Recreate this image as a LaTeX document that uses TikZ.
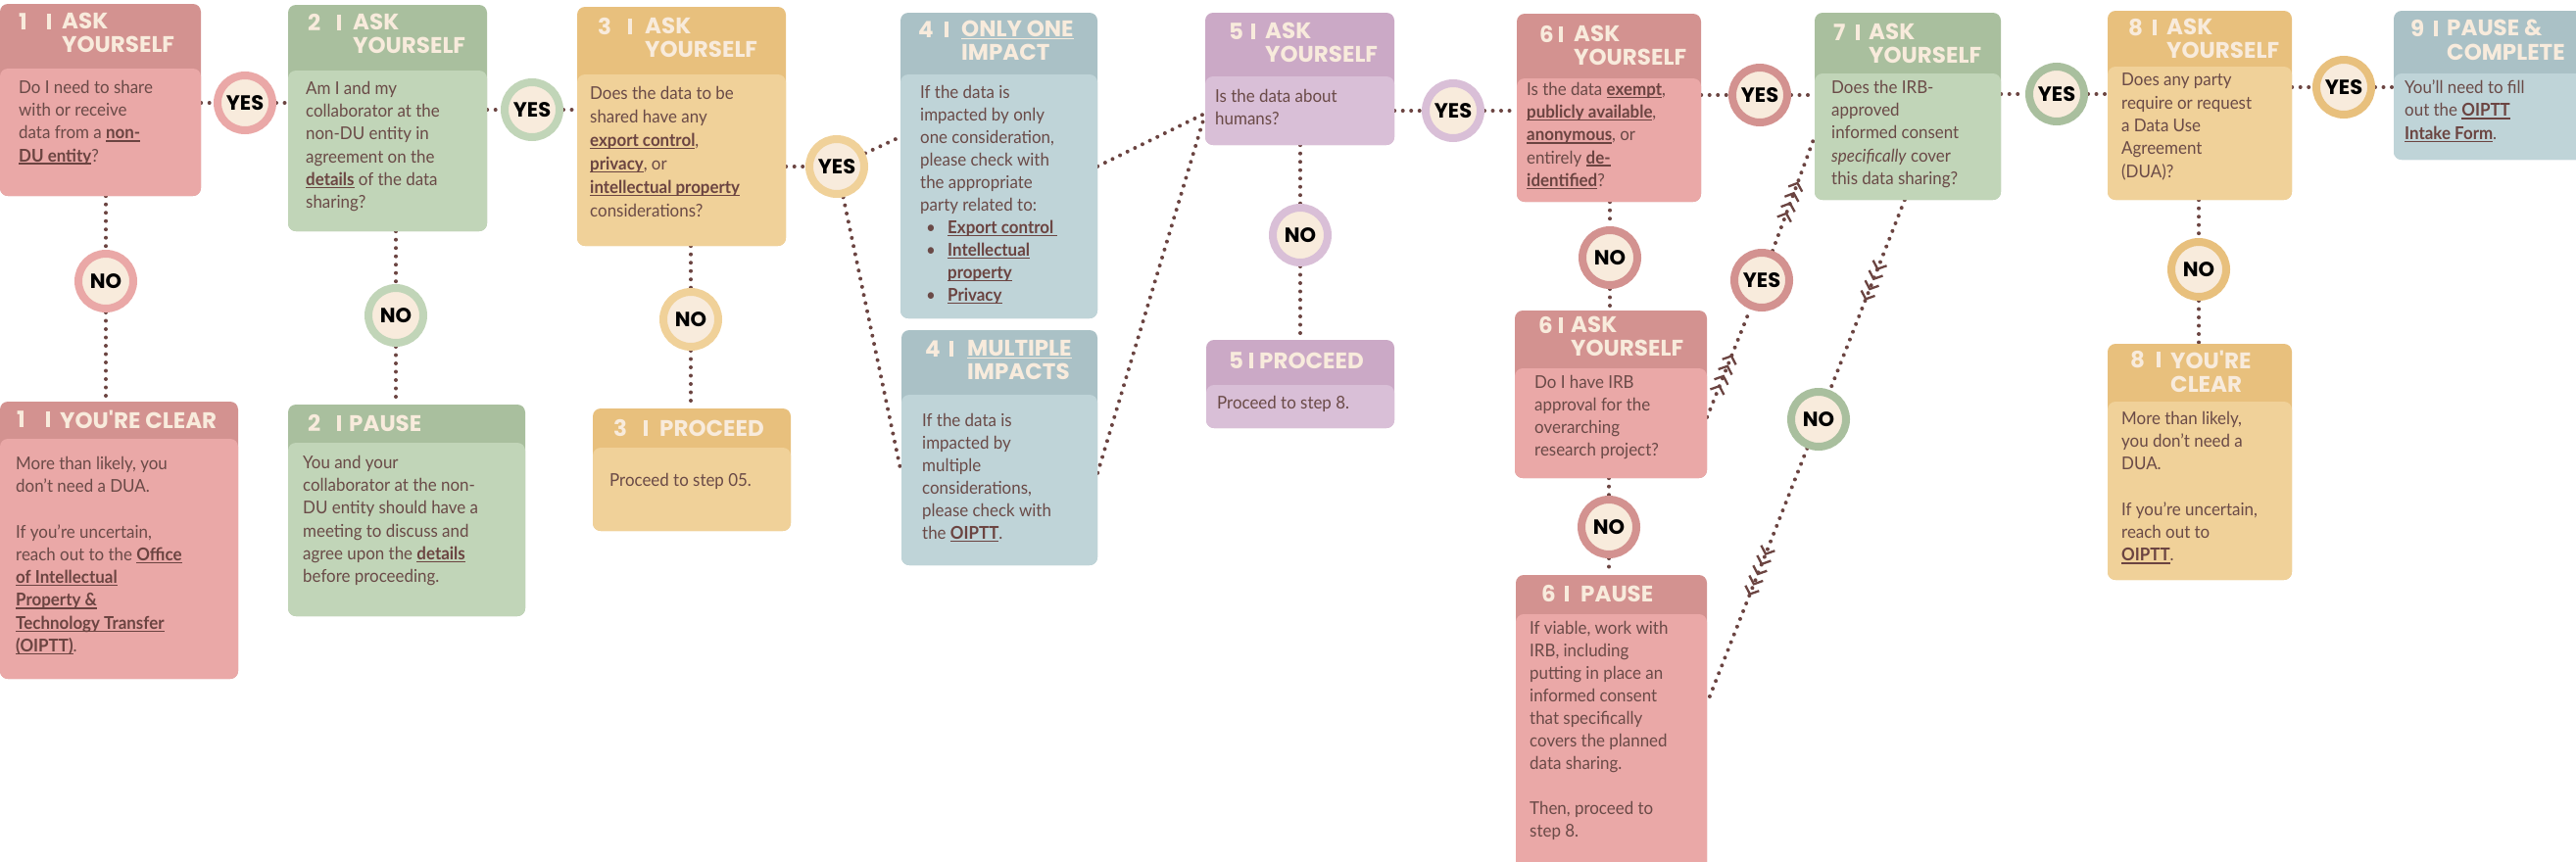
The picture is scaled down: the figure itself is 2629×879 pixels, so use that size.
\documentclass[tikz,border=0pt]{standalone}
\usepackage{fontspec}
\setmainfont{Lato}[FakeStretch=0.94]
\newfontfamily\pop{Poppins}
\newsavebox\ulbox
\newcommand\myul[1]{\leavevmode\sbox\ulbox{#1}\rlap{\rule[-2.8pt]{\wd\ulbox}{1.4pt}}\usebox\ulbox}
\usetikzlibrary{fit,decorations.markings,arrows.meta}
\definecolor{redH}{HTML}{D39290}\definecolor{redB}{HTML}{EAA8A7}
\definecolor{grnH}{HTML}{A9BF9E}\definecolor{grnB}{HTML}{C1D5B8}
\definecolor{yelH}{HTML}{E8C07D}\definecolor{yelB}{HTML}{F0D199}
\definecolor{bluH}{HTML}{AAC1C6}\definecolor{bluB}{HTML}{BFD4D8}
\definecolor{purH}{HTML}{CBA9C6}\definecolor{purB}{HTML}{D9BFD7}
\definecolor{cream}{HTML}{F8EBDC}
\definecolor{txt}{HTML}{6A4A47}
\definecolor{lnk}{HTML}{6B4441}
\definecolor{dotc}{HTML}{6B4441}
\newcommand\lnk[1]{{\color{lnk}\bfseries\myul{#1}}}
\newcommand\bodyf{\fontsize{18}{23.3}\selectfont}
\newcommand\hdf{\pop\bfseries\fontsize{23}{24.5}\selectfont}
\pgfdeclarelayer{bg}\pgfdeclarelayer{lines}\pgfsetlayers{bg,lines,main}
\tikzset{
  dl/.style={draw=dotc, line width=4pt, line cap=round, dash pattern=on 0pt off 8.5pt},
  chev/.style={postaction={decorate}, decoration={markings, mark=between positions #1 step 11pt with {\pgfsetdash{}{0pt}\arrow{Straight Barb[length=6.5pt,width=15pt,line width=2.3pt]}}}},
  yn/.style={circle, fill=cream, draw=#1, line width=8pt, minimum size=56pt, inner sep=0pt, font=\pop\bfseries\fontsize{21}{21}\selectfont, text=black},
  btxt/.style={anchor=north west, inner sep=0pt, align=left, font=\bodyf, text=txt, execute at begin node=\strut},
  htxt/.style={anchor=north west, inner sep=0pt, align=left, font=\hdf, text=cream, execute at begin node=\strut},
  hnum/.style={anchor=base west, inner sep=0pt, font=\hdf, text=cream},
}
% box: name, left, top, right, bottom, header bottom, header colour, body colour
\newcommand\bx[8]{%
  \fill[#7, rounded corners=8pt] (#2,#3) rectangle (#4,#5);
  \fill[#8, rounded corners=8pt] (#2,#6) rectangle (#4,#5);
  \node[inner sep=0pt, fit={(#2,#3) (#4,#5)}] (#1) {};}
% header: name, num x, bar x, title x, cap centre y, number, title
\newcommand\hd[7]{%
  \node[hnum] (#1n) at (#2,#5+8) {#6};
  \draw[cream, line width=4.5pt] (#3,#5-8) -- (#3,#5+8);
  \node[htxt] (#1h) at (#4,#5-9.15) {#7};}
\begin{document}
\begin{tikzpicture}[x=1pt,y=-1pt]
\begin{pgfonlayer}{bg}
\fill[white] (0,0) rectangle (2629,879);
\end{pgfonlayer}
\useasboundingbox (0,0) rectangle (2629,879);
% boxes
\bx{b1}{0}{4}{205}{200}{70}{redH}{redB}
\bx{b1c}{0}{410}{243}{693}{448}{redH}{redB}
\bx{b2}{294}{5}{497}{236}{72}{grnH}{grnB}
\bx{b2p}{294}{413}{536}{629}{452}{grnH}{grnB}
\bx{b3}{589}{7}{802}{251}{76}{yelH}{yelB}
\bx{b3p}{605}{417}{807}{542}{457}{yelH}{yelB}
\bx{b4a}{919}{13}{1120}{325}{76}{bluH}{bluB}
\bx{b4b}{920}{337}{1120}{577}{403}{bluH}{bluB}
\bx{b5}{1230}{13}{1423}{148}{78}{purH}{purB}
\bx{b5p}{1231}{347}{1423}{437}{393}{purH}{purB}
\bx{b6a}{1548}{14}{1736}{206}{80}{redH}{redB}
\bx{b6b}{1546}{317}{1742}{488}{376}{redH}{redB}
\bx{b6p}{1547}{587}{1742}{892}{627}{redH}{redB}
\bx{b7}{1852}{13}{2042}{204}{75}{grnH}{grnB}
\bx{b8}{2151}{11}{2339}{204}{68}{yelH}{yelB}
\bx{b8c}{2151}{351}{2339}{592}{410}{yelH}{yelB}
\bx{b9}{2443}{11}{2645}{163}{75}{bluH}{bluB}
% headers
\hd{b1}{19}{50}{63}{22}{1}{ASK\\YOURSELF}
\hd{b1c}{17}{49}{61}{428}{1}{YOU'RE CLEAR}
\hd{b2}{314}{346}{360}{23}{2}{ASK\\YOURSELF}
\hd{b2p}{314}{346}{356}{432}{2}{PAUSE}
\hd{b3}{610}{643}{658}{27}{3}{ASK\\YOURSELF}
\hd{b3p}{626}{659}{673}{437}{3}{PROCEED}
\hd{b4a}{937}{966}{981}{30}{4}{\myul{ONLY ONE}\\IMPACT}
\hd{b4b}{944}{971}{987}{356}{4}{\myul{MULTIPLE}\\IMPACTS}
\hd{b5}{1254}{1279}{1291}{32}{5}{ASK\\YOURSELF}
\hd{b5p}{1254}{1277}{1285}{368}{5}{PROCEED}
\hd{b6a}{1571}{1593}{1606}{35}{6}{ASK\\YOURSELF}
\hd{b6b}{1570}{1593}{1603}{332}{6}{ASK\\YOURSELF}
\hd{b6p}{1573}{1599}{1613}{606}{6}{PAUSE}
\hd{b7}{1871}{1896}{1907}{33}{7}{ASK\\YOURSELF}
\hd{b8}{2172}{2199}{2211}{28}{8}{ASK\\YOURSELF}
\hd{b8c}{2174}{2203}{2215}{367}{8}{YOU'RE\\CLEAR}
\hd{b9}{2460}{2486}{2497}{29}{9}{PAUSE \&\\COMPLETE}
% body texts
\node[btxt] (t1) at (19,93-11.3) {Do I need to share\\with or receive\\data from a \lnk{non-}\\\lnk{DU entity}?};
\node[btxt] (t1c) at (16,477-11.3) {More than likely, you\\don't need a DUA.\\[23.3pt]If you're uncertain,\\reach out to the \lnk{Office}\\\lnk{of Intellectual}\\\lnk{Property \&}\\\lnk{Technology Transfer}\\\lnk{(OIPTT)}.};
\node[btxt] (t2) at (312,94-11.3) {Am I and my\\collaborator at the\\non-DU entity in\\agreement on the\\\lnk{details} of the data\\sharing?};
\node[btxt] (t2p) at (309,476-11.3) {You and your\\collaborator at the non-\\DU entity should have a\\meeting to discuss and\\agree upon the \lnk{details}\\before proceeding.};
\node[btxt, font=\fontsize{18}{24}\selectfont] (t3) at (602,100-11.8) {Does the data to be\\shared have any\\\lnk{export control},\\\lnk{privacy}, or\\\lnk{intellectual property}\\considerations?};
\node[btxt] (t3p) at (622,491-11.3) {Proceed to step 05.};
\node[btxt, font=\fontsize{18}{23}\selectfont] (t4a) at (939,98-11.1) {If the data is\\impacted by only\\one consideration,\\please check with\\the appropriate\\party related to:\\\makebox[28pt][l]{\hspace{6pt}\textbullet}\lnk{Export control~}\\\makebox[28pt][l]{\hspace{6pt}\textbullet}\lnk{Intellectual}\\\makebox[28pt][l]{}\lnk{property}\\\makebox[28pt][l]{\hspace{6pt}\textbullet}\lnk{Privacy}};
\node[btxt, font=\fontsize{18}{23}\selectfont] (t4b) at (941,433-11.1) {If the data is\\impacted by\\multiple\\considerations,\\please check with\\the \lnk{OIPTT}.};
\node[btxt] (t5) at (1240,102-11.3) {Is the data about\\humans?};
\node[btxt] (t5p) at (1242,412-11.3) {Proceed to step 8.};
\node[btxt] (t6a) at (1558,95-11.3) {Is the data \lnk{exempt},\\\lnk{publicly available},\\\lnk{anonymous}, or\\entirely \lnk{de-}\\\lnk{identified}?};
\node[btxt, font=\fontsize{18}{23}\selectfont] (t6b) at (1566,394-11.1) {Do I have IRB\\approval for the\\overarching\\research project?};
\node[btxt, font=\fontsize{18}{23}\selectfont] (t6p) at (1561,645-11.1) {If viable, work with\\IRB, including\\putting in place an\\informed consent\\that specifically\\covers the planned\\data sharing.\\[23pt]Then, proceed to\\step 8.};
\node[btxt] (t7) at (1869,93-11.3) {Does the IRB-\\approved\\informed consent\\\textit{specifically} cover\\this data sharing?};
\node[btxt] (t8) at (2165,86-11.3) {Does any party\\require or request\\a Data Use\\Agreement\\(DUA)?};
\node[btxt] (t8c) at (2165,431-11.3) {More than likely,\\you don't need a\\DUA.\\[23.3pt]If you're uncertain,\\reach out to\\\lnk{OIPTT}.};
\node[btxt] (t9) at (2454,93-11.3) {You'll need to fill\\out the \lnk{OIPTT}\\\lnk{Intake Form}.};
% yes / no circles
\node[yn=redB] (y1) at (250,105) {YES};
\node[yn=redB] (n1) at (108,287) {NO};
\node[yn=grnB] (y2) at (543,112) {YES};
\node[yn=grnB] (n2) at (404,322) {NO};
\node[yn=yelB] (y3) at (854,170) {YES};
\node[yn=yelB] (n3) at (705,326) {NO};
\node[yn=purB] (y5) at (1483,113) {YES};
\node[yn=purB] (n5) at (1327,240) {NO};
\node[yn=redH] (y6) at (1796,97) {YES};
\node[yn=redH] (n6) at (1643,263) {NO};
\node[yn=redH] (y6b) at (1798,286) {YES};
\node[yn=redH] (n6b) at (1642,538) {NO};
\node[yn=grnH] (y7) at (2099,96) {YES};
\node[yn=grnH] (n7) at (1856,428) {NO};
\node[yn=yelH] (y8) at (2392,89) {YES};
\node[yn=yelH] (n8) at (2244,275) {NO};
% connectors
\begin{pgfonlayer}{lines}
\draw[dl] (b1.east |- y1) -- (y1) -- (b2.west |- y1);
\draw[dl] (b1.south -| n1) -- (n1) -- (b1c.north -| n1);
\draw[dl] (b2.east |- y2) -- (y2) -- (b3.west |- y2);
\draw[dl] (b2.south -| n2) -- (n2) -- (b2p.north -| n2);
\draw[dl] (b3.east |- y3) -- (y3);
\draw[dl] (y3) -- ([yshift=-127pt]b4a.north west);
\draw[dl] (y3) -- ([yshift=-146pt]b4b.north west);
\draw[dl] (b3.south -| n3) -- (n3) -- (b3p.north -| n3);
\draw[dl] ([yshift=-157pt]b4a.north east) -- ([yshift=-103pt]b5.north west);
\draw[dl] ([yshift=-146pt]b4b.north east) -- ([yshift=-104pt]b5.north west);
\draw[dl] (b5.east |- y5) -- (y5) -- (b6a.west |- y5);
\draw[dl] (b5.south -| n5) -- (n5) -- (b5p.north -| n5);
\draw[dl] (b6a.east |- y6) -- (y6) -- (b7.west |- y6);
\draw[dl] (b6a.south -| n6) -- (n6) -- (b6b.north -| n6);
\draw[dl, chev=0.3 and 0.6] ([yshift=-109pt]b6b.north east) -- (y6b);
\draw[dl, chev=0.34 and 0.64] (y6b) -- ([yshift=-127pt]b7.north west);
\draw[dl] (b6b.south -| n6b) -- (n6b) -- (b6p.north -| n6b);
\draw[dl, chev=0.37 and 0.56] ([xshift=92pt]b7.south west) -- (n7);
\draw[dl, chev=0.42 and 0.6] (n7) -- ([yshift=-131pt]b6p.north east);
\draw[dl] (b7.east |- y7) -- (y7) -- (b8.west |- y7);
\draw[dl] (b8.south -| n8) -- (n8) -- (b8c.north -| n8);
\draw[dl] (b8.east |- y8) -- (y8) -- (b9.west |- y8);
\end{pgfonlayer}
\end{tikzpicture}
\end{document}
